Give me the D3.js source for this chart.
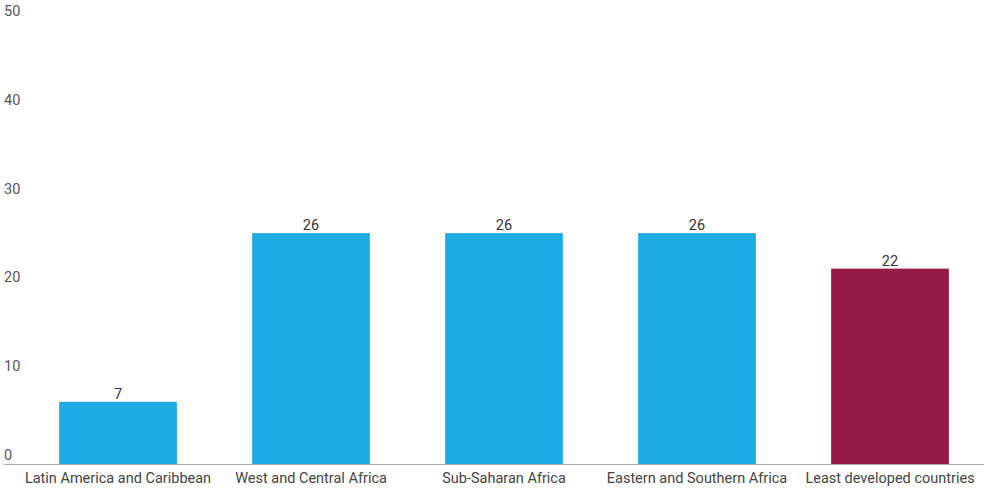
<!DOCTYPE html>
<html><head><meta charset="utf-8">
<script src="https://cdn.jsdelivr.net/npm/d3@7"></script>
<style>body{margin:0;background:#fff}svg{display:block}text{font-family:Roboto,"Noto Sans",sans-serif}</style>
</head><body>
<svg id="c" width="984" height="488"></svg>
<script>
const categories = ["Latin America and Caribbean","West and Central Africa","Sub-Saharan Africa","Eastern and Southern Africa","Least developed countries"];
const values = [7, 26, 26, 26, 22];
const colors = ["#1eaae2","#1eaae2","#1eaae2","#1eaae2","#961a47"];
const yTicks = [0, 10, 20, 30, 40, 50];

const svg = d3.select("#c");
const x = d3.scaleBand().domain(categories).range([21.5, 986.5]).paddingInner(0.39).paddingOuter(0.195);
const y = d3.scaleLinear().domain([0, 50]).range([464, 20]);

// y tick labels (above their level)
svg.append("g").selectAll("text").data(yTicks).join("text")
  .attr("x", 4).attr("y", d => y(d) - 4)
  .attr("font-size", 14.5).attr("fill", "#555")
  .text(d => d);

// bars
svg.append("g").selectAll("rect").data(categories).join("rect")
  .attr("x", d => x(d)).attr("width", x.bandwidth())
  .attr("y", (d, i) => y(values[i])).attr("height", (d, i) => y(0) - y(values[i]))
  .attr("fill", (d, i) => colors[i]);

// value labels
svg.append("g").selectAll("text").data(categories).join("text")
  .attr("x", d => x(d) + x.bandwidth() / 2).attr("y", (d, i) => y(values[i]) - 3)
  .attr("text-anchor", "middle").attr("font-size", 14.5).attr("fill", "#333")
  .text((d, i) => values[i]);

// baseline
svg.append("line").attr("x1", 4).attr("x2", 984).attr("y1", y(0) + 0.5).attr("y2", y(0) + 0.5)
  .attr("stroke", "#aaa").attr("stroke-width", 1);

// x axis labels
const xAxis = d3.axisBottom(x).tickSize(0).tickPadding(0);
const gx = svg.append("g").attr("transform", `translate(0,${y(0)})`).call(xAxis);
gx.select(".domain").remove();
gx.selectAll("text").attr("y", 0).attr("dy", "19px").attr("font-size", 14.5).attr("fill", "#444")
  .attr("font-family", "Roboto, 'Noto Sans', sans-serif");
</script>
</body></html>
